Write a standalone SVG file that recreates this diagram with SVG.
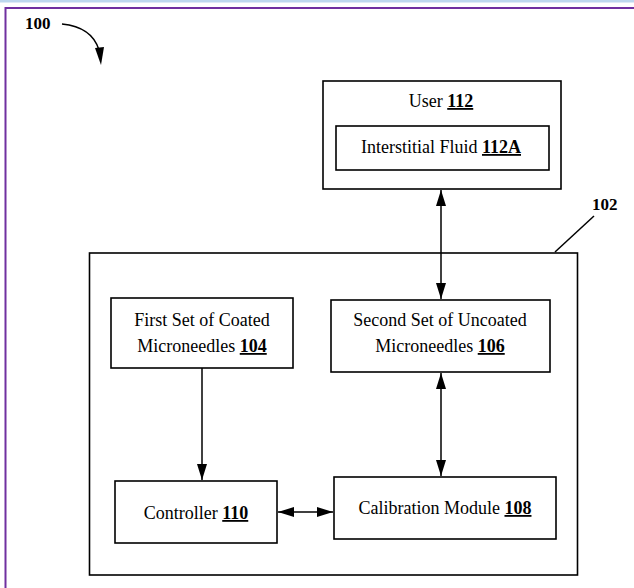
<svg xmlns="http://www.w3.org/2000/svg" width="634" height="588" viewBox="0 0 634 588">
<style>
.box{fill:#fff;stroke:#000;stroke-width:1.6}
.t{font-family:"Liberation Serif","Times New Roman",serif;font-size:18px;fill:#000;text-anchor:middle}
.n{font-weight:bold;text-decoration:underline}
.lbl{font-family:"Liberation Serif","Times New Roman",serif;font-size:17px;font-weight:bold;fill:#000}
.c{fill:none;stroke:#000;stroke-width:1.5}
</style>
<defs>
<marker id="ah" viewBox="0 0 16 10" refX="16" refY="5" markerWidth="16" markerHeight="10" markerUnits="userSpaceOnUse" orient="auto-start-reverse">
<path d="M0,0 L16,5 L0,10 Z" fill="#000"/>
</marker>
</defs>
<rect x="0" y="0" width="634" height="588" fill="#fff"/>
<rect x="0" y="0" width="634" height="2.5" fill="#bdd7ee"/>
<g id="frame">
<line x1="5.5" y1="8" x2="634" y2="8" stroke="#7030a0" stroke-width="2"/>
<line x1="5.5" y1="7" x2="5.5" y2="588" stroke="#7030a0" stroke-width="2"/>
</g>
<g id="label100">
<text class="lbl" x="25" y="29">100</text>
<path class="c" d="M62,24 Q92,27 99,50"/>
<path d="M95,48 L104,47 L101,65 Z" fill="#000"/>
</g>
<g id="n102">
<rect class="box" x="89.5" y="253" width="488" height="322" stroke-width="2"/>
<text class="lbl" x="592" y="210">102</text>
<line class="c" x1="594" y1="216" x2="555" y2="252"/>
</g>
<g id="n112">
<rect class="box" x="323" y="81" width="238" height="108"/>
<text class="t" x="441" y="107">User <tspan class="n">112</tspan></text>
</g>
<g id="n112A">
<rect class="box" x="336" y="126" width="213" height="44"/>
<text class="t" x="441" y="153">Interstitial Fluid <tspan class="n">112A</tspan></text>
</g>
<g id="n104">
<rect class="box" x="111" y="298" width="182" height="70"/>
<text class="t" x="202" y="326">First Set of Coated</text>
<text class="t" x="202" y="352">Microneedles <tspan class="n">104</tspan></text>
</g>
<g id="n106">
<rect class="box" x="331" y="300" width="219" height="72"/>
<text class="t" x="440" y="326">Second Set of Uncoated</text>
<text class="t" x="440" y="352">Microneedles <tspan class="n">106</tspan></text>
</g>
<g id="n110">
<rect class="box" x="115" y="481" width="162" height="62"/>
<text class="t" x="196" y="519">Controller <tspan class="n">110</tspan></text>
</g>
<g id="n108">
<rect class="box" x="334" y="477" width="222" height="62"/>
<text class="t" x="445" y="514">Calibration Module <tspan class="n">108</tspan></text>
</g>
<g id="connectors">
<line class="c" x1="441" y1="190" x2="441" y2="299" marker-start="url(#ah)" marker-end="url(#ah)"/>
<line class="c" x1="441" y1="373" x2="441" y2="476" marker-start="url(#ah)" marker-end="url(#ah)"/>
<line class="c" x1="202" y1="368" x2="202" y2="480" marker-end="url(#ah)"/>
<line class="c" x1="278" y1="512" x2="333" y2="512" marker-start="url(#ah)" marker-end="url(#ah)"/>
</g>
</svg>
